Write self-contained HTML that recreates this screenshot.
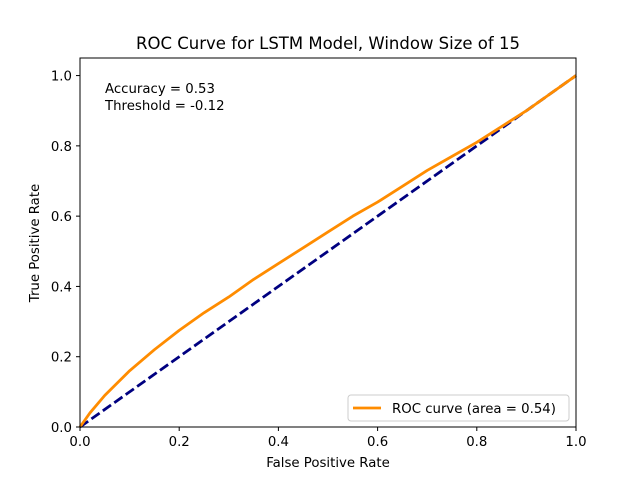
<!DOCTYPE html>
<html><head><meta charset="utf-8"><style>
body{margin:0;background:#fff;}
svg{display:block;font-family:"DejaVu Sans","Liberation Sans",sans-serif;}
</style></head><body>
<svg id="chart" width="640" height="480">
<rect x="0" y="0" width="640" height="480" fill="#fff"/>
<text x="328" y="49" font-size="16.5" text-anchor="middle">ROC Curve for LSTM Model, Window Size of 15</text>
<g id="ticks"></g>
<g id="marks"></g>
<rect x="80" y="58" width="496" height="369" fill="none" stroke="#000" stroke-width="1"/>
<text x="105" y="93" font-size="13.3">Accuracy = 0.53</text>
<text x="105" y="110" font-size="13.3">Threshold = -0.12</text>
<text x="328" y="467" font-size="13.3" text-anchor="middle">False Positive Rate</text>
<text x="39" y="243" font-size="13.3" text-anchor="middle" transform="rotate(-90 39 243)">True Positive Rate</text>
<g>
<rect x="348" y="395" width="221" height="26" rx="3" fill="#fff" stroke="#ccc"/>
<line x1="353" y1="408" x2="381" y2="408" stroke="darkorange" stroke-width="2.8"/>
<text x="392" y="413" font-size="13.3">ROC curve (area = 0.54)</text>
</g>
</svg>
<script>
const fpr=[0,0.02,0.05,0.1,0.15,0.2,0.25,0.3,0.35,0.4,0.45,0.5,0.55,0.6,0.65,0.7,0.75,0.8,0.85,0.9,0.95,1];
const tpr=[0,0.04,0.09,0.16,0.22,0.275,0.325,0.37,0.42,0.465,0.51,0.555,0.6,0.64,0.685,0.73,0.77,0.81,0.855,0.9,0.95,1];
const xTicks=[0,0.2,0.4,0.6,0.8,1.0];
const yTicks=[0,0.2,0.4,0.6,0.8,1.0];
const NS="http://www.w3.org/2000/svg";
const X=v=>80+v*496, Y=v=>427-v*369/1.05;
const tk=document.getElementById('ticks'), mk=document.getElementById('marks');
function el(t,a,p){const e=document.createElementNS(NS,t);for(const k in a)e.setAttribute(k,a[k]);p.appendChild(e);return e;}
xTicks.forEach(v=>{
 const l=el('line',{x1:X(v),x2:X(v),y1:427,y2:431,stroke:'#000'},tk);
 
 
 const t=el('text',{x:X(v),y:446,'font-size':13.3,'text-anchor':'middle'},tk);t.textContent=v.toFixed(1);
 
 
});
yTicks.forEach(v=>{
 const l=el('line',{x1:76,x2:80,y1:Y(v),y2:Y(v),stroke:'#000'},tk);
 
 
 const t=el('text',{x:72,y:Y(v)+5,'font-size':13.3,'text-anchor':'end'},tk);t.textContent=v.toFixed(1);
 
 
});
const d=el('line',{x1:X(0),y1:Y(0),x2:X(1),y2:Y(1),stroke:'navy','stroke-width':2.8,'stroke-dasharray':'10,4'},mk);


const p=el('polyline',{points:fpr.map((f,i)=>X(f)+','+Y(tpr[i])).join(' '),fill:'none',stroke:'darkorange','stroke-width':2.8,'stroke-linejoin':'round'},mk);


</script>
</body></html>
